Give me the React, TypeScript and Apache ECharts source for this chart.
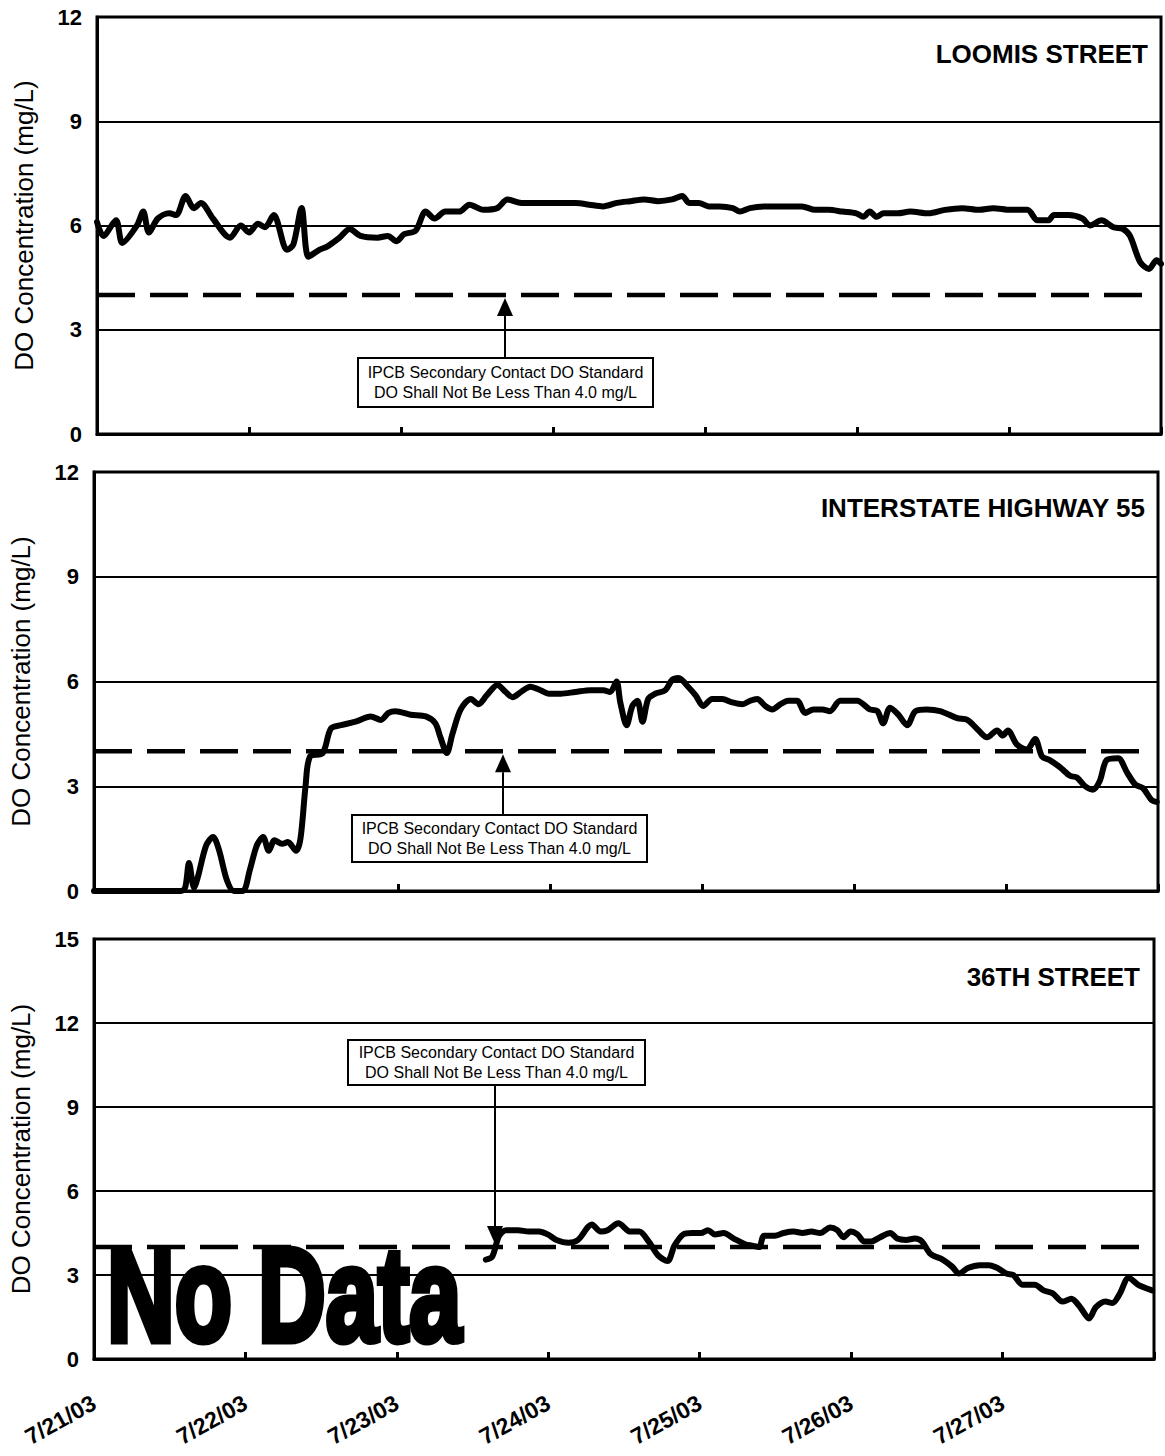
import { useEffect, useRef } from 'react';
import * as echarts from 'echarts';

// Day labels along the shared time axis (hours since 7/21/03 00:00)
const dateLabels = ['7/21/03', '7/22/03', '7/23/03', '7/24/03', '7/25/03', '7/26/03', '7/27/03'];

const stationNames = ['LOOMIS STREET', 'INTERSTATE HIGHWAY 55', '36TH STREET'];

const standardDO = 4.0;
const standardEndHour = 166;

const loomisHours = [0, 1.0, 3.0, 4.0, 6.3, 7.3, 8.2, 9.6, 11.4, 12.5, 14.0, 15.3, 16.4, 18.3, 21.0, 22.7, 24.0, 25.4, 26.5, 27.9, 30.0, 31.0, 32.3, 33.4, 35.1, 36.4, 38.3, 39.9, 41.6, 44.3, 45.9, 47.3, 48.5, 50.3, 51.9, 53.3, 55.0, 57.2, 58.8, 61.0, 63.2, 64.8, 67.0, 69.0, 71.2, 73.4, 75.6, 77.7, 79.9, 82.1, 84.2, 86.4, 88.6, 90.8, 92.4, 93.5, 95.0, 96.6, 98.3, 100.4, 101.5, 103.1, 105.9, 108.0, 111.3, 113.4, 115.5, 117.7, 119.9, 121.0, 122.0, 123.1, 124.2, 126.4, 128.4, 131.3, 133.9, 136.6, 139.3, 141.5, 144.2, 146.9, 148.5, 150.2, 151.1, 153.4, 155.6, 156.8, 158.6, 160.5, 162.0, 163.1, 164.7, 166.1, 167.3, 168];
const loomisDO = [6.1, 5.7, 6.15, 5.5, 6.0, 6.4, 5.8, 6.2, 6.35, 6.3, 6.85, 6.5, 6.65, 6.2, 5.65, 6.0, 5.8, 6.05, 5.95, 6.3, 5.3, 5.45, 6.5, 5.1, 5.3, 5.4, 5.65, 5.9, 5.7, 5.65, 5.7, 5.55, 5.75, 5.85, 6.4, 6.2, 6.4, 6.4, 6.6, 6.45, 6.5, 6.75, 6.65, 6.65, 6.65, 6.65, 6.65, 6.6, 6.55, 6.65, 6.7, 6.75, 6.7, 6.75, 6.85, 6.65, 6.65, 6.55, 6.55, 6.5, 6.4, 6.5, 6.55, 6.55, 6.55, 6.45, 6.45, 6.4, 6.35, 6.25, 6.4, 6.25, 6.35, 6.35, 6.4, 6.35, 6.45, 6.5, 6.45, 6.5, 6.45, 6.45, 6.15, 6.15, 6.3, 6.3, 6.2, 6.0, 6.15, 5.95, 5.9, 5.7, 4.95, 4.75, 5.0, 4.9];

const i55Hours = [0, 13.7, 14.4, 15.0, 15.8, 16.4, 17.7, 18.8, 19.7, 21.0, 22.1, 23.5, 24.6, 25.7, 26.7, 27.6, 28.5, 29.7, 30.6, 31.9, 32.6, 33.4, 34.1, 36.1, 37.4, 39.0, 41.3, 43.7, 45.3, 46.5, 47.6, 50.0, 52.4, 53.9, 54.7, 55.7, 56.6, 57.9, 59.5, 60.7, 62.0, 63.7, 65.0, 66.1, 67.4, 68.9, 70.5, 71.8, 73.7, 76.0, 78.4, 80.4, 81.5, 82.5, 83.1, 84.1, 85.0, 85.8, 86.6, 87.5, 88.6, 90.2, 91.3, 92.3, 93.8, 95.0, 96.2, 97.6, 99.2, 100.8, 102.4, 103.6, 104.7, 106.0, 107.1, 108.4, 109.6, 111.0, 112.3, 113.6, 115.0, 116.2, 117.8, 119.4, 120.5, 122.5, 123.7, 124.6, 125.7, 127.0, 128.4, 129.7, 131.5, 133.6, 136.3, 137.9, 139.4, 141.0, 142.6, 143.5, 144.3, 145.7, 147.3, 148.6, 149.7, 150.9, 152.5, 154.1, 155.2, 156.5, 157.7, 158.8, 159.9, 161.7, 163.1, 164.4, 165.6, 167.0, 167.8];
const i55DO = [0, 0, 0.1, 0.8, 0.1, 0.4, 1.3, 1.55, 1.2, 0.3, 0, 0, 0.6, 1.3, 1.55, 1.15, 1.45, 1.35, 1.4, 1.15, 1.5, 3.0, 3.85, 3.95, 4.65, 4.75, 4.85, 5.0, 4.9, 5.1, 5.15, 5.05, 5.0, 4.8, 4.4, 3.95, 4.5, 5.2, 5.5, 5.35, 5.6, 5.9, 5.7, 5.55, 5.7, 5.85, 5.75, 5.65, 5.65, 5.7, 5.75, 5.75, 5.7, 6.0, 5.4, 4.75, 5.3, 5.45, 4.85, 5.5, 5.65, 5.75, 6.05, 6.1, 5.85, 5.6, 5.3, 5.5, 5.5, 5.4, 5.35, 5.45, 5.5, 5.3, 5.2, 5.35, 5.45, 5.45, 5.1, 5.2, 5.2, 5.15, 5.45, 5.45, 5.45, 5.2, 5.15, 4.8, 5.25, 5.05, 4.75, 5.15, 5.2, 5.15, 4.95, 4.9, 4.65, 4.4, 4.6, 4.45, 4.6, 4.2, 4.05, 4.35, 3.85, 3.75, 3.55, 3.3, 3.25, 3.0, 2.9, 3.15, 3.75, 3.8, 3.4, 3.05, 2.95, 2.6, 2.55];

const st36Hours = [62.1, 63.1, 64.2, 65.3, 67.2, 68.9, 70.5, 71.9, 73.3, 75.2, 76.7, 78.9, 80.3, 81.4, 83.1, 85.0, 86.4, 87.9, 89.4, 90.9, 92.0, 93.4, 94.8, 96.2, 97.3, 98.4, 99.8, 101.4, 103.2, 104.3, 105.4, 106.2, 107.9, 109.3, 110.9, 112.3, 113.7, 115.1, 116.7, 117.8, 118.8, 119.9, 121.0, 122.1, 123.2, 124.6, 126.2, 127.3, 128.7, 130.1, 131.2, 132.6, 134.5, 136.0, 137.1, 138.5, 140.4, 141.8, 143.2, 144.6, 145.7, 147.2, 149.1, 150.5, 151.9, 153.5, 154.9, 156.3, 157.7, 158.8, 160.3, 161.4, 162.5, 164.0, 165.5, 167.7];
const st36DO = [3.55, 3.65, 4.4, 4.6, 4.6, 4.55, 4.55, 4.45, 4.25, 4.15, 4.25, 4.8, 4.55, 4.6, 4.85, 4.55, 4.55, 4.2, 3.7, 3.5, 4.05, 4.45, 4.5, 4.5, 4.6, 4.45, 4.5, 4.3, 4.1, 4.05, 4.0, 4.4, 4.4, 4.5, 4.55, 4.5, 4.55, 4.5, 4.7, 4.6, 4.35, 4.55, 4.45, 4.2, 4.2, 4.35, 4.5, 4.3, 4.25, 4.3, 4.2, 3.75, 3.55, 3.3, 3.05, 3.25, 3.35, 3.35, 3.25, 3.05, 3.0, 2.65, 2.65, 2.45, 2.35, 2.05, 2.15, 1.85, 1.45, 1.85, 2.05, 2.0, 2.3, 2.9, 2.65, 2.45];

const yMaxes = [12, 12, 15];

const noteLine1 = 'IPCB Secondary Contact DO Standard';
const noteLine2 = 'DO Shall Not Be Less Than 4.0 mg/L';

const FONT = '"Liberation Sans", Arial, Helvetica, sans-serif';

function zip(xs: number[], ys: number[]) {
  return xs.map((x, i) => [x, ys[i]]);
}

export default function App() {
  const ref = useRef<HTMLDivElement>(null);

  useEffect(() => {
    if (!ref.current) return;
    const chart = echarts.init(ref.current, null, { renderer: 'svg' });

    const grids = [
      { left: 97, top: 17, width: 1064, height: 417 },
      { left: 93, top: 472, width: 1065, height: 419 },
      { left: 88, top: 939, width: 1066, height: 420 },
    ];
    const stations = [zip(loomisHours, loomisDO), zip(i55Hours, i55DO), zip(st36Hours, st36DO)];

    const option: any = {
      animation: false,
      backgroundColor: '#fff',
      textStyle: { fontFamily: FONT, color: '#000' },
      grid: grids.map((g) => ({
        ...g,
        show: true,
        borderColor: '#000',
        borderWidth: 3,
        containLabel: false,
      })),
      xAxis: grids.map((_, i) => ({
        type: 'value',
        gridIndex: i,
        min: 0,
        max: 168,
        interval: 24,
        axisLine: { show: true, lineStyle: { color: '#000', width: 3 } },
        axisTick: { show: true, inside: true, length: 7, lineStyle: { color: '#000', width: 3 } },
        axisLabel: {
          show: i === 2,
          rotate: 29,
          margin: 42,
          fontSize: 23,
          fontWeight: 'bold',
          fontFamily: FONT,
          color: '#000',
          formatter: (v: number) => dateLabels[Math.round(v / 24)] ?? '',
        },
        splitLine: { show: false },
      })),
      yAxis: grids.map((_, i) => ({
        type: 'value',
        gridIndex: i,
        min: 0,
        max: yMaxes[i],
        interval: 3,
        name: 'DO Concentration (mg/L)',
        nameLocation: 'middle',
        nameGap: 60,
        nameTextStyle: { fontSize: 26, fontFamily: FONT, color: '#000' },
        axisLine: { show: true, lineStyle: { color: '#000', width: 3 } },
        axisTick: { show: false },
        axisLabel: { fontSize: 22, fontWeight: 'bold', fontFamily: FONT, color: '#000', margin: 15 },
        splitLine: { show: true, lineStyle: { color: '#000', width: 2 } },
      })),
      series: [
        ...stations.map((data, i) => ({
          type: 'line',
          name: stationNames[i],
          xAxisIndex: i,
          yAxisIndex: i,
          data,
          symbol: 'none',
          smooth: 0.3,
          z: 5,
          lineStyle: { color: '#000', width: 6, cap: 'round', join: 'round' },
        })),
        ...grids.map((_, i) => ({
          type: 'line',
          name: 'standard',
          xAxisIndex: i,
          yAxisIndex: i,
          data: [[0, standardDO], [standardEndHour, standardDO]],
          symbol: 'none',
          z: 4,
          lineStyle: { color: '#000', width: 4.5, type: [38, 15] },
        })),
      ],
    };
    chart.setOption(option);

    // Pixel row of the 4.0 mg/L standard in each panel, used to aim the note arrows
    const stdY = grids.map((_, i) => (chart.convertToPixel({ gridIndex: i } as any, [80, standardDO]) as number[])[1]);

    const titleFont = `bold 26px ${FONT}`;
    const noteFont = `16px ${FONT}`;

    const titles = [
      { x: 1148, y: 54 },
      { x: 1145, y: 508 },
      { x: 1140, y: 977 },
    ].map((p, i) => ({
      type: 'text',
      x: p.x,
      y: p.y,
      z: 100,
      style: { text: stationNames[i], font: titleFont, fill: '#000', align: 'right', verticalAlign: 'middle' },
    }));

    const notes = [
      { x: 358, y: 358, w: 295, h: 49, ax: 505, up: true },
      { x: 352, y: 815, w: 295, h: 47, ax: 503, up: true },
      { x: 348, y: 1040, w: 297, h: 45, ax: 495, up: false },
    ];
    const noteEls: any[] = [];
    notes.forEach((n, i) => {
      const cx = n.x + n.w / 2;
      noteEls.push({
        type: 'rect',
        z: 100,
        shape: { x: n.x, y: n.y, width: n.w, height: n.h },
        style: { fill: '#fff', stroke: '#000', lineWidth: 2 },
      });
      noteEls.push({
        type: 'text',
        z: 101,
        x: cx,
        y: n.y + n.h / 2 - 10,
        style: { text: noteLine1, font: noteFont, fill: '#000', align: 'center', verticalAlign: 'middle' },
      });
      noteEls.push({
        type: 'text',
        z: 101,
        x: cx,
        y: n.y + n.h / 2 + 10,
        style: { text: noteLine2, font: noteFont, fill: '#000', align: 'center', verticalAlign: 'middle' },
      });
      const tip = n.up ? stdY[i] + 3 : stdY[i] - 3;
      const base = n.up ? tip + 18 : tip - 18;
      noteEls.push({
        type: 'line',
        z: 100,
        shape: { x1: n.ax, y1: n.up ? n.y : n.y + n.h, x2: n.ax, y2: base },
        style: { stroke: '#000', lineWidth: 2 },
      });
      noteEls.push({
        type: 'polygon',
        z: 100,
        shape: { points: [[n.ax, tip], [n.ax - 8, base], [n.ax + 8, base]] },
        style: { fill: '#000' },
      });
    });

    const noData = {
      type: 'text',
      x: 107,
      y: 1295,
      scaleX: 0.7,
      z: 100,
      style: {
        text: 'No Data',
        font: `bold 134px "Liberation Sans", Arial, sans-serif`,
        fill: '#000',
        stroke: '#000',
        lineWidth: 7,
        align: 'left',
        verticalAlign: 'middle',
      },
    };

    chart.setOption({ graphic: [...titles, ...noteEls, noData] });

    return () => chart.dispose();
  }, []);

  return (
    <div
      ref={ref}
      style={{ position: 'absolute', left: 0, top: 0, width: 1165, height: 1456, background: '#fff' }}
    />
  );
}
